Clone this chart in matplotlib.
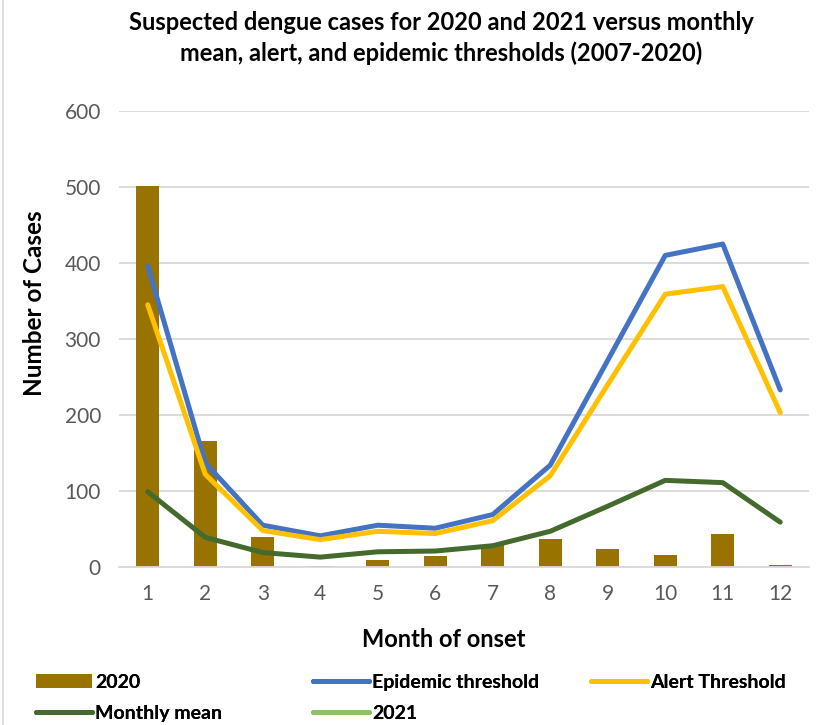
import matplotlib
matplotlib.use("Agg")
import matplotlib.pyplot as plt
from matplotlib.lines import Line2D
import numpy as np

plt.rcParams['font.family'] = ['Lato', 'DejaVu Sans']

months = [1, 2, 3, 4, 5, 6, 7, 8, 9, 10, 11, 12]
cases_2020 = [501, 166, 39, 1, 9, 14, 29, 37, 24, 16, 44, 3]
cases_2021 = []
epidemic = [396, 137, 55, 41, 55, 51, 69, 134, 272, 410, 425, 233]
alert = [345, 122, 48, 36, 47, 44, 61, 120, 240, 359, 369, 203]
monthly_mean = [99, 39, 19, 13, 20, 21, 28, 47, 80, 114, 111, 59]
yticks = [0, 100, 200, 300, 400, 500, 600]

c_bar = '#997300'
c_epi = '#4472C4'
c_alert = '#FFC000'
c_mean = '#446A2D'
c_2021 = '#8CC168'

W, H = 837, 725
fig = plt.figure(figsize=(W / 100, H / 100), dpi=100)
ax = fig.add_axes([119 / W, 1 - 567 / H, (809 - 119) / W, (567 - 111) / H])

lw = 3.6
x = np.array(months)
b = ax.bar(x, cases_2020, width=0.4, color=c_bar, zorder=2, label='2020')
l_epi, = ax.plot(x, epidemic, color=c_epi, lw=lw, solid_capstyle='round', solid_joinstyle='round', zorder=3, label='Epidemic threshold')
l_alert, = ax.plot(x, alert, color=c_alert, lw=lw, solid_capstyle='round', solid_joinstyle='round', zorder=3, label='Alert Threshold')
l_mean, = ax.plot(x, monthly_mean, color=c_mean, lw=lw, solid_capstyle='round', solid_joinstyle='round', zorder=4, label='Monthly mean')
l_21, = ax.plot(months[:len(cases_2021)], cases_2021, color=c_2021, lw=lw, solid_capstyle='round', zorder=4, label='2021')

ax.set_xlim(0.5, 12.5)
ax.set_ylim(0, 600)
ax.set_yticks(yticks)
ax.set_xticks(months)
ax.grid(axis='y', color='#D9D9D9', lw=1.3, zorder=0)
ax.set_axisbelow(True)
for s in ['top', 'right', 'left']:
    ax.spines[s].set_visible(False)
ax.spines['bottom'].set_color('#D9D9D9')
ax.spines['bottom'].set_linewidth(1.3)
ax.tick_params(axis='both', length=0, colors='#595959', labelsize=15)
ax.tick_params(axis='x', pad=12)
ax.tick_params(axis='y', pad=13)

ax.set_xlabel('Month of onset', fontsize=17, fontweight='bold')
ax.xaxis.set_label_coords(0.47, -0.133)
ax.set_ylabel('Number of Cases', fontsize=17.5, fontweight='bold')
ax.yaxis.set_label_coords(-0.106, 0.579)
fig.text(0.527, 0.985, 'Suspected dengue cases for 2020 and 2021 versus monthly\nmean, alert, and epidemic thresholds (2007-2020)',
         ha='center', va='top', fontsize=17, fontweight='bold', linespacing=1.38)

# chart border (left edge visible in reference)
fig.add_artist(Line2D([3.5 / W, 3.5 / W], [0, 1], color='#D9D9D9', lw=1.2, transform=fig.transFigure))

cols = [([b, l_mean], ['2020', 'Monthly mean'], 36),
        ([l_epi, l_21], ['Epidemic threshold', '2021'], 313),
        ([l_alert], ['Alert Threshold'], 591)]
for hs, ls, xp in cols:
    leg = fig.legend(hs, ls, loc='upper left', bbox_to_anchor=(xp / W, 1 - 674 / H),
                     frameon=False, fontsize=14, handlelength=2.9, handletextpad=0.15,
                     labelspacing=0.72, borderpad=0, borderaxespad=0, handleheight=0.7)
    for t in leg.get_texts():
        t.set_fontweight('bold')
    fig.add_artist(leg)

fig.savefig('out.png', dpi=100)
